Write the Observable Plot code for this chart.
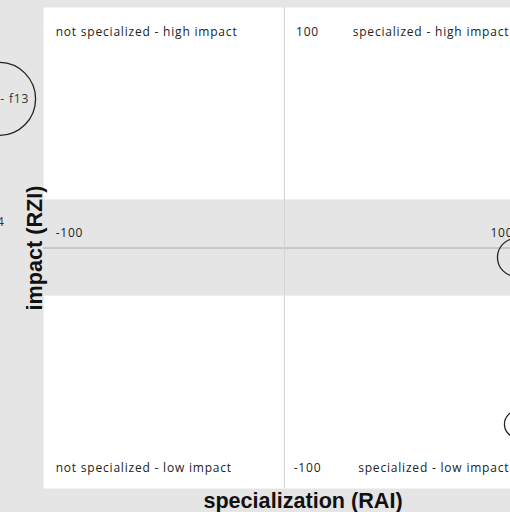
<!DOCTYPE html>
<html>
<head>
<meta charset="utf-8">
<script src="https://cdn.jsdelivr.net/npm/d3@7"></script>
<script src="https://cdn.jsdelivr.net/npm/@observablehq/plot@0.6"></script>
<style>
  html, body { margin: 0; padding: 0; background: #e5e5e5; }
  svg g[font-size="12"] text { letter-spacing: 0.8px; }
</style>
</head>
<body>
<div id="chart"></div>
<script>
// Bubble data (RAI = specialization, RZI = impact, n = bubble size)
const labels = ["- f13", "f14", "", ""];
const rai = [-124.7, -135.4, 101.4, 102.0];
const rzi = [65.1, 11.1, -4.1, -76.9];
const sizes = [73, 5, 20, 10];

// Quadrant descriptions
const quadrantLabels = ["not specialized - high impact", "specialized - high impact", "not specialized - low impact", "specialized - low impact"];
const quadrantX = [-100, 100, -100, 100];
const quadrantY = [100, 100, -100, -100];

// Axis tick labels drawn on the centre lines
const xTickValues = [-100, 100];
const yTickValues = [100, -100];
const bandLimits = [-21, 21];

const points = labels.map((label, i) => ({label, rai: rai[i], rzi: rzi[i], n: sizes[i]}));
const quads = quadrantLabels.map((text, i) => ({text, x: quadrantX[i], y: quadrantY[i]}));

const font = "'Open Sans', 'DejaVu Sans', sans-serif";
const titleFont = "'Liberation Sans', Arial, sans-serif";
const tc = "#222";

const chart = Plot.plot({
  width: 510,
  height: 512,
  marginLeft: 43,
  marginRight: -15,
  marginTop: 7,
  marginBottom: 24,
  style: {background: "#e5e5e5", fontFamily: font, fontSize: "12px", color: tc},
  x: {domain: [-105.3, 105.3], axis: null},
  y: {domain: [-105, 105], axis: null},
  r: {type: "sqrt", domain: [0, 100], range: [0, 42.7]},
  marks: [
    Plot.frame({fill: "white", stroke: null}),
    Plot.rect([bandLimits], {y1: d => d[0], y2: d => d[1], fill: "#e5e5e5"}),
    Plot.ruleY([0], {stroke: "#aaaaaa", strokeWidth: 1}),
    Plot.ruleX([0], {stroke: "#d4d4d4", strokeWidth: 1}),
    // x tick labels on horizontal centre line
    Plot.text(xTickValues.filter(d => d < 0), {x: d => d, y: 0, text: d => String(d), textAnchor: "start", dy: -15, fill: tc, fontSize: 12}),
    Plot.text(xTickValues.filter(d => d > 0), {x: d => d, y: 0, text: d => String(d), textAnchor: "end", dy: -15, fill: tc, fontSize: 12}),
    // y tick labels next to vertical centre line
    Plot.text(yTickValues.filter(d => d > 0), {x: 0, y: d => d, text: d => String(d), textAnchor: "middle", dx: 23, dy: 13.5, fill: tc, fontSize: 12}),
    Plot.text(yTickValues.filter(d => d < 0), {x: 0, y: d => d, text: d => String(d), textAnchor: "middle", dx: 23, dy: -8.5, fill: tc, fontSize: 12}),
    // quadrant labels
    Plot.text(quads.filter(d => d.y > 0 && d.x < 0), {x: "x", y: "y", text: "text", textAnchor: "start", dy: 13.5, fill: tc, fontSize: 12}),
    Plot.text(quads.filter(d => d.y > 0 && d.x > 0), {x: "x", y: "y", text: "text", textAnchor: "end", dx: -4, dy: 13.5, fill: tc, fontSize: 12}),
    Plot.text(quads.filter(d => d.y < 0 && d.x < 0), {x: "x", y: "y", text: "text", textAnchor: "start", dy: -8.5, fill: tc, fontSize: 12}),
    Plot.text(quads.filter(d => d.y < 0 && d.x > 0), {x: "x", y: "y", text: "text", textAnchor: "end", dx: -4, dy: -8.5, fill: tc, fontSize: 12}),
    // bubbles
    Plot.dot(points, {x: "rai", y: "rzi", r: "n", stroke: "#222", strokeWidth: 1.3, fill: "none"}),
    Plot.text(points, {x: "rai", y: "rzi", text: "label", textAnchor: "end", dx: 30, fill: "#333", fontSize: 12}),
    // axis titles
    Plot.text(["specialization (RAI)"], {frameAnchor: "bottom", textAnchor: "middle", lineAnchor: "bottom", dx: 18.5, dy: 19.5, fontWeight: "bold", fontSize: 21.6, fontFamily: titleFont, fill: "#111"}),
    Plot.text(["impact (RZI)"], {frameAnchor: "left", textAnchor: "middle", lineAnchor: "bottom", dx: -2, rotate: -90, fontWeight: "bold", fontSize: 21.6, fontFamily: titleFont, fill: "#111"})
  ]
});
document.getElementById("chart").append(chart);
</script>
</body>
</html>
